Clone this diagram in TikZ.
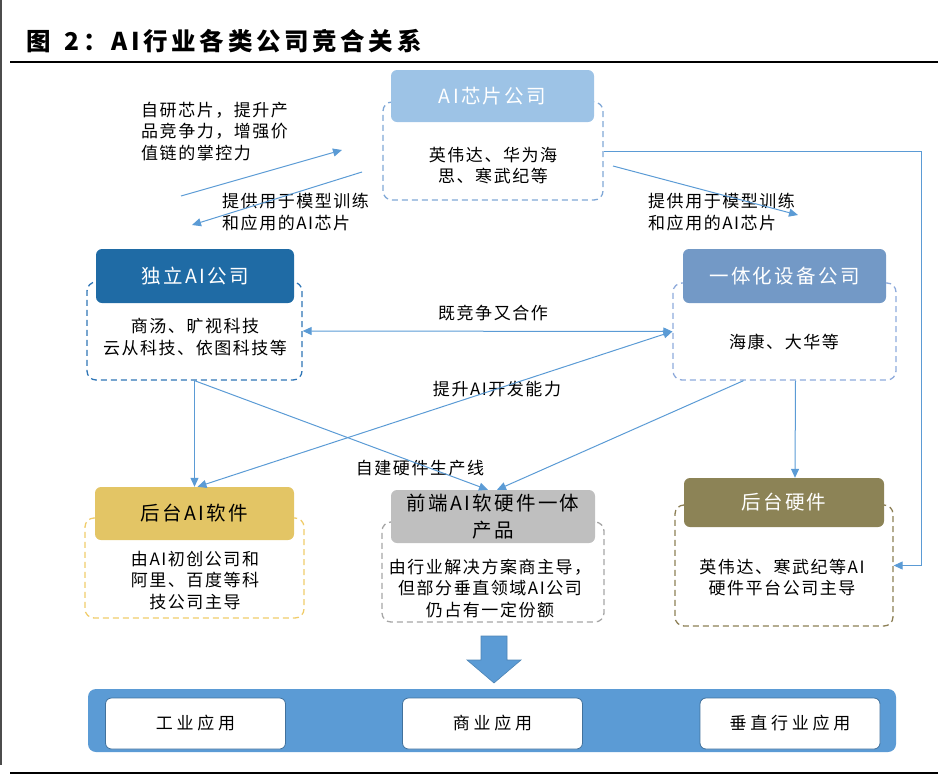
\documentclass[tikz,border=0pt]{standalone}
\usepackage{fontspec}
\setmainfont{Noto Sans CJK SC}
\newfontfamily\bodyfont[LetterSpace=9]{Noto Sans CJK SC}
\newfontfamily\headfont[LetterSpace=12]{Noto Sans CJK SC}
\newfontfamily\appfont[LetterSpace=22]{Noto Sans CJK SC}
\newfontfamily\titlefont[LetterSpace=15]{Noto Sans CJK SC}
\usepackage{tikz}
\usetikzlibrary{arrows.meta,positioning,calc}

\definecolor{linec}{HTML}{5B9BD5}
\definecolor{chipc}{HTML}{9DC3E6}
\definecolor{chipd}{HTML}{7FA7D6}
\definecolor{indc}{HTML}{1F6BA5}
\definecolor{indd}{HTML}{2E75B6}
\definecolor{intc}{HTML}{7399C6}
\definecolor{intd}{HTML}{8EAADB}
\definecolor{softc}{HTML}{E3C565}
\definecolor{softd}{HTML}{F0CC6A}
\definecolor{frontc}{HTML}{BFBFBF}
\definecolor{frontd}{HTML}{A6A6A6}
\definecolor{hwc}{HTML}{8C8356}
\definecolor{hwd}{HTML}{8C7F55}
\definecolor{barc}{HTML}{5B9BD5}
\definecolor{appd}{HTML}{41719C}

\begin{document}
\begin{tikzpicture}[
  x=1pt, y=-1pt,
  dbox/.style={dash pattern=on 6pt off 4pt, line width=1.3pt, rounded corners=9pt, inner sep=0},
  hbox/.style={rounded corners=6pt, text=white, align=center, inner sep=0,
    font=\headfont\fontsize{19.5}{27}\selectfont},
  txt/.style={align=center, inner sep=0, font=\bodyfont\fontsize{17}{21.5}\selectfont},
  lbl/.style={inner sep=0, font=\bodyfont\fontsize{17}{21.5}\selectfont},
  appbox/.style={draw=appd, fill=white, line width=0.8pt, rounded corners=6pt,
    minimum width=180pt, minimum height=51pt, inner sep=0,
    font=\appfont\fontsize{17}{20}\selectfont},
  flow/.style={-{Triangle[length=9pt,width=8pt]}, draw=linec, line width=1pt},
  flow2/.style={{Triangle[length=9pt,width=8pt]}-{Triangle[length=9pt,width=8pt]}, draw=linec, line width=1pt}
]
\useasboundingbox (0,0) rectangle (938,777);

% title and rules
\node[anchor=west, inner sep=0, font=\titlefont\bfseries\fontsize{24.5}{28}\selectfont] (title) at (26,41) {图\kern14pt 2：AI行业各类公司竞合关系};
\draw[line width=2pt] (10,62) -- (938,62);
\draw[line width=2pt] (10,773) -- (938,773);
\draw[black!70, line width=1.5pt] (0.75,0) -- (0.75,765);

% company boxes
\node[dbox, draw=chipd, minimum width=220pt, minimum height=98pt] (chipB) at (493,151) {};
\node[hbox, fill=chipc, minimum width=203pt, minimum height=52pt] (chipH) at (492.5,96) {AI芯片公司};
\node[txt] (chipT) at (493,165.5) {英伟达、华为海\\思、寒武纪等};

\node[dbox, draw=indd, minimum width=215pt, minimum height=98pt] (indB) at (194.5,331) {};
\node[hbox, fill=indc, minimum width=198pt, minimum height=54pt] (indH) at (195,276) {独立AI公司};
\node[txt] (indT) at (195,337) {商汤、旷视科技\\云从科技、依图科技等};

\node[dbox, draw=intd, minimum width=223pt, minimum height=97pt] (intB) at (784.5,331.5) {};
\node[hbox, fill=intc, minimum width=203pt, minimum height=54pt] (intH) at (784.5,276) {一体化设备公司};
\node[txt] (intT) at (784,342) {海康、大华等};

\node[dbox, draw=softd, minimum width=219pt, minimum height=100pt] (softB) at (194.5,568) {};
\node[hbox, fill=softc, text=black, minimum width=199pt, minimum height=53pt] (softH) at (194.5,513.5) {后台AI软件};
\node[txt] (softT) at (195,580.5) {由AI初创公司和\\阿里、百度等科\\技公司主导};

\node[dbox, draw=frontd, minimum width=222pt, minimum height=100pt] (frontB) at (493,572) {};
\node[hbox, fill=frontc, text=black, minimum width=204pt, minimum height=53pt] (frontH) at (493,516.5) {前端AI软硬件一体\\产品};
\node[txt] (frontT) at (490,588.5) {由行业解决方案商主导，\\但部分垂直领域AI公司\\仍占有一定份额};

\node[dbox, draw=hwd, minimum width=218pt, minimum height=121pt] (hwB) at (784,565.5) {};
\node[hbox, fill=hwc, minimum width=200pt, minimum height=49pt] (hwH) at (784,502.5) {后台硬件};
\node[txt] (hwT) at (782,577.5) {英伟达、寒武纪等AI\\硬件平台公司主导};

% arrow labels
\node[lbl, align=left, anchor=west] (ownL) at (141,131.5) {自研芯片，提升产\\品竞争力，增强价\\值链的掌控力};
\node[lbl, align=left, anchor=west] (supL) at (222,212) {提供用于模型训练\\和应用的AI芯片};
\node[lbl, align=left, anchor=west] (supR) at (648,212) {提供用于模型训练\\和应用的AI芯片};
\node[lbl] (coopL) at (493,313) {既竞争又合作};
\node[lbl] (devL) at (497,389) {提升AI开发能力};
\node[lbl] (fabL) at (420,468) {自建硬件生产线};

\coordinate (upA) at (181,196);
\coordinate (upB) at (342,150);
\coordinate (dnA) at (362,172);
\coordinate (dnB) at (192,225);
\coordinate (rtA) at (613,166);
\coordinate (rtB) at (798,215);

% connectors
\draw[flow] (upA) -- (upB);
\draw[flow] (dnA) -- (dnB);
\draw[flow] (rtA) -- (rtB);
\draw[flow] (chipB.east) -- ++(318,0) |- (hwB.east);
\draw[flow2] (indB.east) -- (intB.west);
\draw[flow2] ([xshift=3pt]softH.north) -- (intB.west);
\draw[flow] (indB.south) -- (softH.north);
\draw[flow] (indB.south) -- ([xshift=-5pt]frontH.north);
\draw[flow] ([xshift=-41pt]intB.south) -- ([xshift=4pt]frontH.north);
\draw[flow] ([xshift=11pt]intB.south) -- ([xshift=11pt]hwH.north);

% applications
\fill[barc, draw=barc!85!black, line width=0.6pt] (481,636) -- (507,636) -- (507,660) -- (521,660) -- (494,683) -- (467,660) -- (481,660) -- cycle;
\node[fill=barc, rounded corners=8pt, minimum width=808pt, minimum height=63pt, inner sep=0] (bar) at (492,720.5) {};
\node[appbox] (app1) at (195.5,723.5) {工业应用};
\node[appbox] (app2) at (492.5,723.5) {商业应用};
\node[appbox] (app3) at (790,723.5) {垂直行业应用};
\end{tikzpicture}
\end{document}
